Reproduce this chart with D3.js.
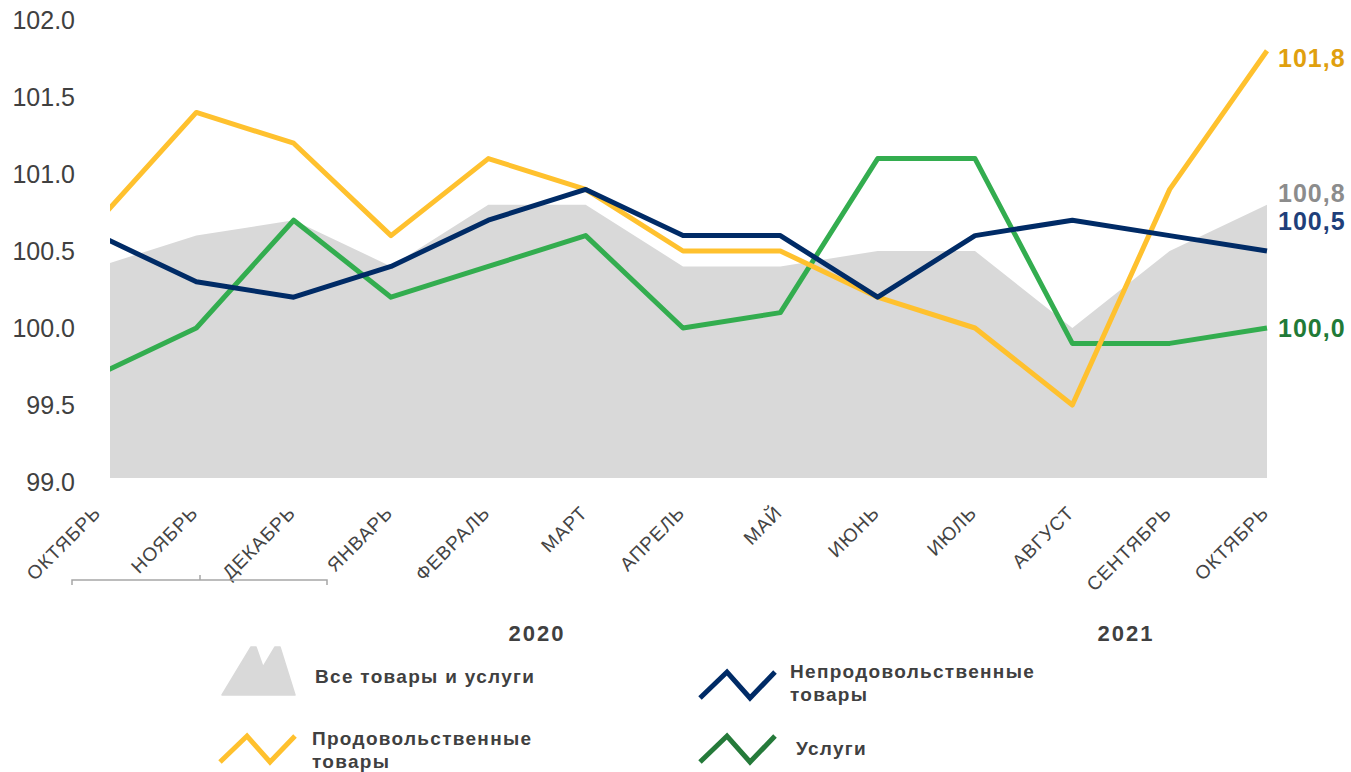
<!DOCTYPE html>
<html><head><meta charset="utf-8">
<script src="https://cdn.jsdelivr.net/npm/d3@7"></script>
<style>body{margin:0;background:#fff;} svg{display:block;font-family:"Liberation Sans",Arial,sans-serif;}</style>
</head><body>
<svg id="c" width="1351" height="772"></svg>
<script>
const months = ["ОКТЯБРЬ","НОЯБРЬ","ДЕКАБРЬ","ЯНВАРЬ","ФЕВРАЛЬ","МАРТ","АПРЕЛЬ","МАЙ","ИЮНЬ","ИЮЛЬ","АВГУСТ","СЕНТЯБРЬ","ОКТЯБРЬ"];
const allGoods = [100.4,100.6,100.7,100.4,100.8,100.8,100.4,100.4,100.5,100.5,100.0,100.5,100.8];
const food     = [100.7,101.4,101.2,100.6,101.1,100.9,100.5,100.5,100.2,100.0,99.5,100.9,101.8];
const nonFood  = [100.6,100.3,100.2,100.4,100.7,100.9,100.6,100.6,100.2,100.6,100.7,100.6,100.5];
const services = [99.7,100.0,100.7,100.2,100.4,100.6,100.0,100.1,101.1,101.1,99.9,99.9,100.0];
const yTicks = [99.0,99.5,100.0,100.5,101.0,101.5,102.0];
const years = ["2020","2021"];
const endLabels = ["101,8","100,8","100,5","100,0"];
const legendNames = ["Все товары и услуги","Непродовольственные товары","Продовольственные товары","Услуги"];

const svg = d3.select("#c");
const idx = d3.range(months.length);
const x = d3.scaleLinear().domain([0, months.length-1]).range([99,1267]);
const y = d3.scaleLinear().domain([99,102]).range([482,20]);

const cGray="#D9D9D9", cFood="#FFC12E", cNon="#002B66", cSrv="#33AD4F";

svg.append("clipPath").attr("id","plotclip").append("rect")
  .attr("x",110).attr("y",0).attr("width",1267-110+3).attr("height",490);

// y axis labels
const yAxis = d3.axisLeft(y).tickValues(yTicks).tickFormat(d3.format(".1f")).tickSize(0).tickPadding(0);
const ga = svg.append("g").attr("transform","translate(75,0)").call(yAxis);
ga.select(".domain").remove();
ga.selectAll("text").attr("font-size",25).attr("fill","#404040").attr("font-family","Liberation Sans, Arial, sans-serif");

const plot = svg.append("g").attr("clip-path","url(#plotclip)");
// area
plot.append("path").datum(idx)
  .attr("fill",cGray)
  .attr("d", d3.area().x(i=>x(i)).y0(y(99)-4).y1(i=>y(allGoods[i])));

const line = arr => d3.line().x(i=>x(i)).y(i=>y(arr[i]));
[[services,cSrv],[food,cFood],[nonFood,cNon]].forEach(([arr,c])=>{
  plot.append("path").datum(idx).attr("fill","none").attr("stroke",c)
    .attr("stroke-width",5).attr("stroke-linejoin","round").attr("d",line(arr));
});

// x axis labels
const xAxis = d3.axisBottom(x).tickValues(idx).tickFormat(i=>months[i]).tickSize(0).tickPadding(0);
const gx = svg.append("g").call(xAxis);
gx.select(".domain").remove();
gx.selectAll(".tick").attr("transform",i=>`translate(${x(i)+3},514)`);
gx.selectAll("text")
  .attr("y",0).attr("dy",0)
  .attr("font-size",19).attr("fill","#444").attr("letter-spacing",1)
  .attr("text-anchor","end")
  .attr("transform","rotate(-45)");

// bracket
svg.append("path").attr("fill","none").attr("stroke","#A6A6A6").attr("stroke-width",1.5)
  .attr("d","M72,585 L72,580 L327,580 L327,585 M200,580 L200,575");

// years
svg.selectAll(".yr").data(years).enter().append("text")
  .attr("x",(d,i)=>i===0?537:1126).attr("y",641)
  .attr("text-anchor","middle").attr("font-size",22).attr("font-weight","bold").attr("fill","#404040")
  .attr("letter-spacing",2)
  .text(d=>d);

// end labels
const endCols = ["#E0A00E","#8C8C8C","#1F3F7A","#217A37"];
const endY = [58,193,221,328];
endLabels.forEach((t,i)=>{
  svg.append("text").attr("x",1278).attr("y",endY[i]).attr("dy","0.35em")
    .attr("font-size",25).attr("font-weight","bold").attr("letter-spacing",1).attr("fill",endCols[i]).text(t);
});

// legend
svg.append("path").attr("fill",cGray).attr("stroke",cGray).attr("stroke-width",1.5).attr("stroke-linejoin","round")
  .attr("d","M222,695 L251,647 L256,647 L263,667 L275,647 L280,647 L295,695 Z");
const zig = (x0,yb) => `M${x0},${yb} L${x0+27},${yb-26} L${x0+50},${yb} L${x0+75},${yb-26}`;
[[700,698,cNon],[220,762,cFood],[700,762,"#257A3A"]].forEach(([x0,yb,c])=>{
  svg.append("path").attr("fill","none").attr("stroke",c).attr("stroke-width",5).attr("d",zig(x0,yb));
});
const lt = (tx,ty,lines) => {
  const t = svg.append("text").attr("x",tx).attr("y",ty).attr("font-size",19).attr("font-weight","bold")
    .attr("letter-spacing",1.3).attr("fill","#404040");
  lines.forEach((l,i)=>t.append("tspan").attr("x",tx).attr("dy",i?23:0).text(l));
};
lt(315,683,[legendNames[0]]);
lt(790,678,legendNames[1].split(" "));
lt(312,745,legendNames[2].split(" "));
lt(796,755,[legendNames[3]]);
</script>
</body></html>
